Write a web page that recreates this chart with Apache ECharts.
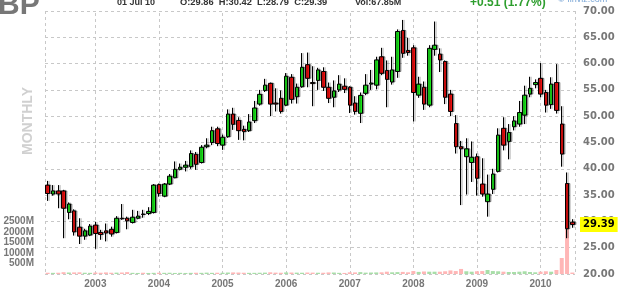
<!DOCTYPE html>
<html>
<head>
<meta charset="utf-8">
<script src="https://cdn.jsdelivr.net/npm/echarts@6/dist/echarts.min.js"></script>
<style>
  html, body { margin: 0; padding: 0; background: #fff; }
  #chart { width: 625px; height: 298px; }
</style>
</head>
<body>
<div id="chart"></div>
<script>
var dom = document.getElementById("chart");
var myChart = echarts.init(dom);

// monthly bars, Apr 2002 .. Jul 2010
var dates = [
    '2002-04', '2002-05', '2002-06', '2002-07', '2002-08', '2002-09', '2002-10', '2002-11', '2002-12',
    '2003-01', '2003-02', '2003-03', '2003-04', '2003-05', '2003-06', '2003-07', '2003-08', '2003-09', '2003-10', '2003-11', '2003-12',
    '2004-01', '2004-02', '2004-03', '2004-04', '2004-05', '2004-06', '2004-07', '2004-08', '2004-09', '2004-10', '2004-11', '2004-12',
    '2005-01', '2005-02', '2005-03', '2005-04', '2005-05', '2005-06', '2005-07', '2005-08', '2005-09', '2005-10', '2005-11', '2005-12',
    '2006-01', '2006-02', '2006-03', '2006-04', '2006-05', '2006-06', '2006-07', '2006-08', '2006-09', '2006-10', '2006-11', '2006-12',
    '2007-01', '2007-02', '2007-03', '2007-04', '2007-05', '2007-06', '2007-07', '2007-08', '2007-09', '2007-10', '2007-11', '2007-12',
    '2008-01', '2008-02', '2008-03', '2008-04', '2008-05', '2008-06', '2008-07', '2008-08', '2008-09', '2008-10', '2008-11', '2008-12',
    '2009-01', '2009-02', '2009-03', '2009-04', '2009-05', '2009-06', '2009-07', '2009-08', '2009-09', '2009-10', '2009-11', '2009-12',
    '2010-01', '2010-02', '2010-03', '2010-04', '2010-05', '2010-06', '2010-07'
];

var opens = [
    36.9, 35.2, 35.8, 35.8, 31.7, 32.0, 28.9, 27.2, 27.4,
    29.3, 27.9, 28.2, 28.5, 27.9, 30.6, 30.6, 29.8, 30.6, 31.4, 31.5, 31.7,
    37.0, 34.8, 37.1, 38.3, 39.9, 40.3, 40.4, 42.75, 41.2, 44.2, 45.0, 47.6,
    44.5, 46.1, 50.4, 49.2, 47.5, 47.25, 49.15, 52.3, 54.9, 56.25, 52.5, 53.4,
    52.1, 57.4, 53.7, 55.6, 59.8, 56.4, 56.8, 58.5, 55.5, 53.6, 55.0, 55.7,
    55.5, 52.5, 50.55, 54.35, 56.1, 55.9, 61.3, 58.7, 56.5, 58.5, 66.3, 62.5,
    63.0, 54.0, 55.5, 52.1, 62.7, 61.8, 60.4, 54.2, 48.6, 44.2, 42.3, 41.2,
    42.3, 37.1, 33.75, 36.1, 39.5, 47.7, 45.2, 48.0, 48.5, 50.2, 54.2, 56.0,
    57.2, 54.5, 52.2, 56.4, 48.5, 37.2, 29.86
];
var closes = [
    35.3, 35.8, 35.2, 32.5, 33.3, 28.0, 27.2, 28.2, 29.1,
    27.7, 27.5, 27.8, 27.6, 30.6, 30.5, 30.1, 30.8, 31.0, 31.3, 31.9, 36.9,
    35.3, 37.1, 38.6, 39.9, 40.3, 40.7, 42.9, 40.85, 44.1, 44.5, 47.25, 44.8,
    46.0, 50.4, 48.45, 47.25, 47.06, 48.9, 51.56, 54.16, 55.9, 52.3, 52.3, 50.9,
    57.6, 53.2, 55.5, 59.3, 57.2, 56.2, 58.8, 55.5, 53.4, 54.8, 56.1, 55.1,
    52.1, 50.9, 53.96, 55.9, 56.3, 60.7, 58.15, 57.0, 58.8, 66.1, 61.95, 62.1,
    54.5, 56.1, 52.3, 62.9, 63.5, 60.7, 53.6, 50.9, 44.2, 43.8, 43.8, 42.2,
    38.2, 35.2, 35.2, 39.0, 46.4, 44.5, 46.9, 49.1, 50.7, 54.0, 55.3, 56.4,
    54.2, 52.1, 56.1, 51.1, 42.8, 28.6, 29.39
];
var lows = [
    33.9, 34.9, 32.5, 26.8, 30.4, 27.3, 25.7, 26.5, 27.2,
    24.8, 26.5, 26.2, 27.1, 27.7, 30.3, 28.5, 29.6, 30.4, 30.7, 31.2, 31.5,
    34.7, 34.6, 36.9, 38.2, 39.7, 39.5, 40.0, 39.8, 41.0, 43.9, 44.5, 44.3,
    43.6, 45.9, 47.4, 45.5, 45.4, 47.0, 48.7, 52.0, 54.6, 50.0, 50.9, 50.5,
    51.9, 52.4, 52.4, 55.4, 55.5, 51.9, 55.0, 54.8, 52.5, 51.7, 54.6, 54.4,
    50.6, 50.3, 48.7, 54.0, 55.0, 55.1, 57.8, 51.7, 56.0, 57.3, 61.1, 61.5,
    49.0, 53.5, 51.2, 51.7, 61.5, 58.4, 52.3, 50.0, 42.9, 33.1, 35.1, 37.5,
    34.9, 34.7, 30.9, 35.2, 39.3, 43.5, 41.8, 47.3, 48.0, 48.5, 53.6, 55.3,
    53.6, 50.7, 51.4, 50.5, 40.4, 26.8, 28.79
];
var highs = [
    37.7, 36.9, 36.9, 36.0, 33.6, 32.3, 30.6, 28.6, 29.5,
    29.9, 28.4, 29.6, 29.0, 31.0, 33.3, 30.9, 32.2, 32.0, 32.2, 32.7, 37.1,
    37.2, 37.3, 39.0, 41.4, 41.0, 41.5, 43.5, 43.2, 44.5, 45.8, 48.0, 48.0,
    46.5, 51.3, 51.6, 49.8, 48.2, 50.4, 52.9, 55.0, 57.1, 56.4, 55.3, 54.9,
    58.2, 58.0, 56.2, 62.0, 62.1, 59.5, 59.2, 59.3, 56.4, 56.8, 57.8, 57.2,
    55.7, 53.8, 54.5, 58.0, 58.8, 61.3, 63.0, 60.6, 61.3, 66.5, 68.3, 64.9,
    63.5, 57.5, 56.6, 63.5, 68.0, 62.9, 60.6, 55.0, 50.2, 45.3, 45.8, 45.2,
    42.9, 42.0, 38.9, 40.0, 47.7, 49.8, 48.5, 50.0, 52.9, 55.8, 57.5, 57.0,
    60.1, 55.0, 57.4, 59.9, 51.9, 39.3, 30.42
];
// volume in millions of shares
var volumes = [
    60, 55, 60, 85, 70, 75, 80, 60, 55,
    70, 60, 75, 60, 65, 70, 90, 55, 50, 60, 50, 55,
    60, 55, 60, 50, 55, 50, 55, 60, 55, 65, 55, 60,
    60, 70, 75, 70, 60, 55, 55, 60, 65, 80, 65, 60,
    75, 70, 65, 60, 70, 65, 60, 60, 75, 70, 55, 50,
    80, 75, 90, 65, 70, 75, 80, 110, 80, 90, 100, 80,
    140, 100, 120, 110, 110, 110, 130, 170, 140, 240, 130, 110,
    130, 140, 190, 140, 130, 110, 95, 95, 110, 130, 95, 80,
    110, 130, 110, 190, 760, 2650, 67.85
];
var volTicks = [500, 1000, 1500, 2000, 2500];
var lastClose = 29.39;

var upColor = '#1be51b';
var downColor = '#ec0f0f';
var gridColor = '#c8c8c8';
var labelColor = '#777';

var ohlc = [];
for (var i = 0; i < dates.length; i++) {
    ohlc.push([opens[i], closes[i], lows[i], highs[i]]);
}

// dashed year lines on January bars
var yearLines = [];
dates.forEach(function (d) {
    if (d.slice(5) === '01') {
        yearLines.push({ xAxis: d, label: { show: false } });
    }
});

var option = {
    animation: false,
    backgroundColor: '#fff',
    graphic: [
        { type: 'text', x: -2, y: 6, style: { text: 'BP', font: 'bold 30px "Liberation Sans"', fill: '#777', verticalAlign: 'middle' } },
        { type: 'text', x: 117, y: 2.5, style: { text: '01 Jul 10', font: 'bold 9px "Liberation Sans"', fill: '#333', verticalAlign: 'middle' } },
        { type: 'text', x: 180, y: 2.5, style: { text: 'O:29.86  H:30.42  L:28.79  C:29.39', font: 'bold 9.3px "Liberation Sans"', fill: '#333', verticalAlign: 'middle' } },
        { type: 'text', x: 355, y: 2.5, style: { text: 'Vol:67.85M', font: 'bold 9px "Liberation Sans"', fill: '#333', verticalAlign: 'middle' } },
        { type: 'text', x: 470, y: 2.5, style: { text: '+0.51 (1.77%)', font: 'bold 12px "Liberation Sans"', fill: '#2e9e2e', verticalAlign: 'middle' } },
        { type: 'text', x: 558, y: 0, style: { text: '\u00a9 finviz.com', font: '9px "Liberation Sans"', fill: '#7aa6d6', verticalAlign: 'middle' } },
        { type: 'text', x: 28, y: 121, rotation: Math.PI / 2, style: { text: 'MONTHLY', font: 'bold 14px "Liberation Sans"', fill: '#d0d0d0', align: 'center', verticalAlign: 'middle' } }
    ],
    grid: { left: 45, right: 50, top: 11, bottom: 24 },
    xAxis: [{
        type: 'category',
        data: dates,
        boundaryGap: true,
        axisLine: { show: false },
        axisTick: { show: false },
        splitLine: { show: false },
        axisLabel: {
            interval: function (idx, val) { return val.slice(5) === '01'; },
            formatter: function (val) { return val.slice(0, 4); },
            color: labelColor,
            fontWeight: 'bold',
            fontFamily: 'Liberation Sans',
            fontSize: 10,
            margin: 5
        }
    }, {
        // only draws the dashed left/right borders
        type: 'value',
        position: 'top',
        min: 0,
        max: 100,
        interval: 100,
        axisLine: { show: false },
        axisTick: { show: false },
        axisLabel: { show: false },
        splitLine: { show: true, lineStyle: { color: gridColor, type: [3, 3] } }
    }],
    yAxis: [{
        type: 'value',
        position: 'right',
        min: 20,
        max: 70,
        interval: 5,
        axisLine: { show: false },
        axisTick: { show: false },
        splitLine: { show: true, lineStyle: { color: gridColor, type: [3, 3] } },
        axisLabel: {
            formatter: function (v) { return v.toFixed(2); },
            color: labelColor,
            fontWeight: 'bold',
            fontFamily: 'DejaVu Sans',
            fontSize: 10,
            margin: 8
        }
    }, {
        type: 'value',
        position: 'left',
        min: 0,
        max: 12500,
        interval: 500,
        axisLine: { show: false },
        axisTick: { show: false },
        splitLine: { show: false },
        axisLabel: {
            formatter: function (v) { return volTicks.indexOf(v) >= 0 ? v + 'M' : ''; },
            color: labelColor,
            fontWeight: 'bold',
            fontFamily: 'Liberation Sans',
            fontSize: 10,
            margin: 11
        }
    }],
    series: [{
        name: 'Volume',
        type: 'bar',
        yAxisIndex: 1,
        data: volumes,
        barWidth: 4,
        z: 1,
        itemStyle: {
            color: function (p) {
                return closes[p.dataIndex] >= opens[p.dataIndex] ? '#a8dea8' : '#ffb6b6';
            }
        }
    }, {
        name: 'BP',
        type: 'candlestick',
        data: ohlc,
        barWidth: 4,
        z: 3,
        itemStyle: {
            color: upColor,
            color0: downColor,
            borderColor: '#000',
            borderColor0: '#000',
            borderWidth: 1,
            shadowColor: 'rgba(0,0,0,0.35)',
            shadowOffsetX: 1.5,
            shadowOffsetY: 0,
            shadowBlur: 0
        },
        markLine: {
            silent: true,
            z: 1,
            symbol: ['none', 'none'],
            animation: false,
            lineStyle: { color: gridColor, type: [3, 3], width: 1 },
            data: yearLines
        }
    }, {
        // last close marker on the price scale
        name: 'Last',
        type: 'line',
        data: [],
        z: 10,
        markLine: {
            silent: true,
            symbol: ['none', 'none'],
            animation: false,
            lineStyle: { color: 'rgba(0,0,0,0)', width: 0 },
            label: {
                show: true,
                position: 'end',
                distance: 5,
                formatter: lastClose.toFixed(2),
                backgroundColor: '#ffff00',
                color: '#000',
                fontWeight: 'bold',
                fontFamily: 'DejaVu Sans',
                fontSize: 10,
                padding: [3, 3, 2, 3]
            },
            data: [{ yAxis: lastClose }]
        }
    }]
};

if (option && typeof option === "object") {
    myChart.setOption(option, true);
}
</script>
</body>
</html>
